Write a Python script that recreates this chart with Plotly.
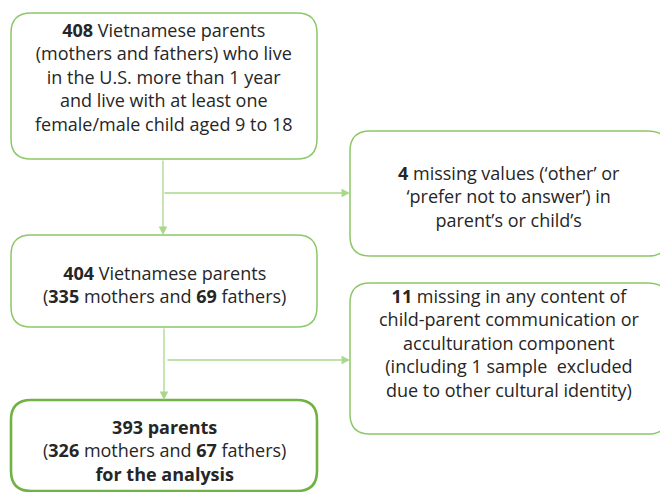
import plotly.graph_objects as go

# ---- content ----
box_lines = [
    ["<b>408</b> Vietnamese parents",
     "(mothers and fathers) who live",
     "in the U.S. more than 1 year",
     "and live with at least one",
     "female/male child aged 9 to 18"],
    ["<b>4</b> missing values (\u2018other\u2019 or",
     "\u2018prefer not to answer\u2019) in",
     "parent\u2019s or child\u2019s"],
    ["<b>404</b> Vietnamese parents",
     "(<b>335</b> mothers and <b>69</b> fathers)"],
    ["<b>11</b> missing in any content of",
     "child-parent communication or",
     "acculturation component",
     "(including 1 sample  excluded",
     "due to other cultural identity)"],
    ["<b>393 parents</b>",
     "(<b>326</b> mothers and <b>67</b> fathers)",
     "<b>for the analysis</b>"],
]

# ---- layout geometry (pixels, y down) ----
boxes = [  # x0, y0, x1, y1
    (11, 13, 317, 159),
    (350, 131, 668, 256),
    (11, 235, 317, 327),
    (350, 283, 668, 434),
    (11, 400, 317, 491),
]
text_cy = [77, 196, 284, 343, 450]
text_cx = [164, 509, 164, 509, 164]
border_w = [1.5, 1.5, 1.5, 1.5, 2.6]
border_c = ["#8cc86a", "#8cc86a", "#8cc86a", "#8cc86a", "#70b244"]
R = 20

def rrect(x0, y0, x1, y1, r):
    return (f"M {x0+r},{y0} L {x1-r},{y0} Q {x1},{y0} {x1},{y0+r} "
            f"L {x1},{y1-r} Q {x1},{y1} {x1-r},{y1} L {x0+r},{y1} "
            f"Q {x0},{y1} {x0},{y1-r} L {x0},{y0+r} Q {x0},{y0} {x0+r},{y0} Z")

fig = go.Figure()
shapes = []
annotations = []
for i, (b, lines) in enumerate(zip(boxes, box_lines)):
    x0, y0, x1, y1 = b
    shapes.append(dict(type="path", path=rrect(x0, y0, x1, y1, R), xref="x", yref="y",
                       line=dict(color=border_c[i], width=border_w[i]), fillcolor="white"))
    annotations.append(dict(x=text_cx[i], y=text_cy[i], xref="x", yref="y",
                            text="<br>".join(lines), showarrow=False, align="center",
                            xanchor="center", yanchor="middle",
                            font=dict(family="Open Sans", size=18, color="#262626")))

arrow_c = "#a8d88a"
# connectors: (x_start, y_start, x_end, y_end)
connectors = [
    (163, 159, 163, 235),
    (163, 193, 350, 193),
    (164, 327, 164, 400),
    (166, 360, 350, 360),
]
for xs, ys, xe, ye in connectors:
    annotations.append(dict(x=xe, y=ye, ax=xs, ay=ys, xref="x", yref="y", axref="x", ayref="y",
                            text="", showarrow=True, arrowhead=2, arrowsize=1.3, arrowwidth=1.3,
                            arrowcolor=arrow_c, standoff=0))

fig.update_layout(
    width=660, height=492, margin=dict(l=0, r=0, t=0, b=0),
    paper_bgcolor="white", plot_bgcolor="white",
    xaxis=dict(range=[0, 660], visible=False, fixedrange=True),
    yaxis=dict(range=[492, 0], visible=False, fixedrange=True),
    shapes=shapes, annotations=annotations, showlegend=False,
)
fig.write_html("out.html", config={"displayModeBar": False},
               post_script="document.body.style.margin='0px';document.body.style.overflow='hidden';")
